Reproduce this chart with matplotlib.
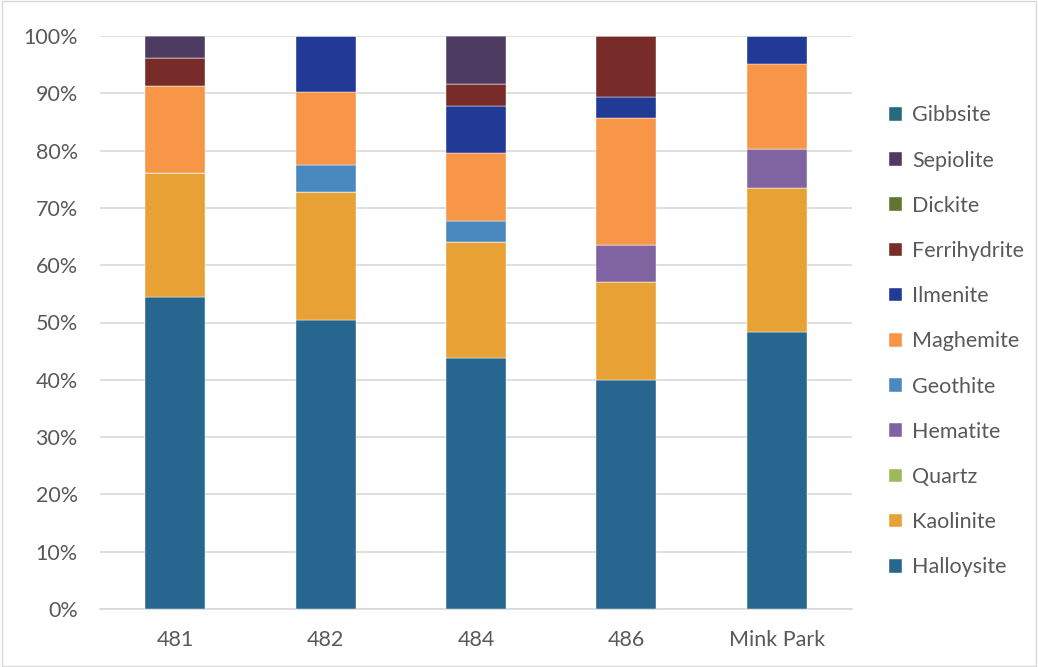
import matplotlib.pyplot as plt
from matplotlib.patches import Rectangle
from matplotlib.ticker import PercentFormatter

sites = ['481', '482', '484', '486', 'Mink Park']

# percent of each mineral per site (stack order bottom -> top)
halloysite = [54.5, 50.4, 43.8, 40.0, 48.4]
kaolinite = [21.6, 22.4, 20.2, 17.1, 25.0]
quartz = [0, 0, 0, 0, 0]
hematite = [0, 0, 0, 6.4, 6.8]
geothite = [0, 4.6, 3.8, 0, 0]
maghemite = [15.2, 12.9, 11.8, 22.2, 14.9]
ilmenite = [0, 9.7, 8.1, 3.7, 4.9]
ferrihydrite = [4.8, 0, 3.9, 10.6, 0]
dickite = [0, 0, 0, 0, 0]
sepiolite = [3.9, 0, 8.4, 0, 0]
gibbsite = [0, 0, 0, 0, 0]

series = [
    ('Halloysite', halloysite, '#26668F'),
    ('Kaolinite', kaolinite, '#E8A135'),
    ('Quartz', quartz, '#9BBB59'),
    ('Hematite', hematite, '#8064A2'),
    ('Geothite', geothite, '#4A89BF'),
    ('Maghemite', maghemite, '#F79646'),
    ('Ilmenite', ilmenite, '#203A96'),
    ('Ferrihydrite', ferrihydrite, '#772C2A'),
    ('Dickite', dickite, '#5F7530'),
    ('Sepiolite', sepiolite, '#4D3B62'),
    ('Gibbsite', gibbsite, '#276A7C'),
]

plt.rcParams['font.family'] = ['Lato', 'DejaVu Sans']

fig = plt.figure(figsize=(10.38, 6.67), dpi=100)
ax = fig.add_axes([100 / 1038, 58 / 667, 752 / 1038, 573 / 667])

x = range(len(sites))
tot = [sum(v) for v in zip(*[s[1] for s in series])]
bottom = [0.0] * len(sites)
handles = []
for name, vals, col in series:
    pct = [v / t * 100 for v, t in zip(vals, tot)]
    b = ax.bar(x, pct, 0.4, bottom=bottom, color=col, label=name,
               edgecolor='white', linewidth=0.3, zorder=3)
    bottom = [b0 + p for b0, p in zip(bottom, pct)]
    handles.append(b)

ax.set_xlim(-0.5, 4.5)
ax.set_ylim(0, 100)
ax.set_yticks(range(0, 101, 10))
ax.yaxis.set_major_formatter(PercentFormatter(decimals=0))
ax.set_xticks(list(x))
ax.set_xticklabels(sites)
ax.tick_params(length=0, labelsize=15.5, colors='#595959')
ax.tick_params(axis='x', pad=15)
ax.tick_params(axis='y', pad=16)
ax.grid(axis='y', color='#d9d9d9', linewidth=1.2, zorder=0)
for s in ['top', 'right', 'left']:
    ax.spines[s].set_visible(False)
ax.spines['bottom'].set_color('#d9d9d9')
ax.spines['bottom'].set_linewidth(1.2)

leg = ax.legend(handles[::-1], [s[0] for s in series][::-1],
                loc='center left', bbox_to_anchor=(1.024, 0.467), frameon=False,
                fontsize=15.5, labelspacing=1.17, handlelength=0.6,
                handleheight=0.6, handletextpad=0.45)
for t in leg.get_texts():
    t.set_color('#595959')

fig.patches.append(Rectangle((0.002, 0.002), 0.996, 0.996, transform=fig.transFigure,
                             fill=False, edgecolor='#d9d9d9', linewidth=1))

fig.savefig('out.png', dpi=100)
